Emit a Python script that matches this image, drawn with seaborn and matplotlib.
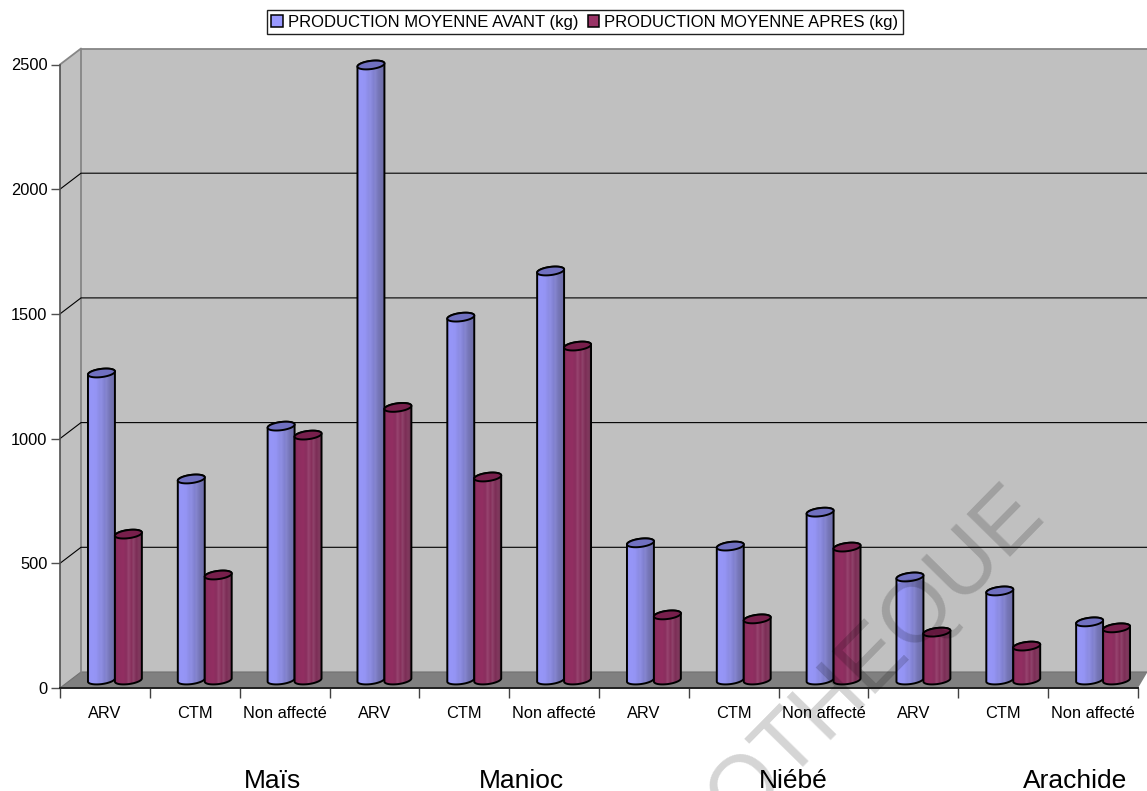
import numpy as np
import pandas as pd
import matplotlib
matplotlib.use("Agg")
import matplotlib.pyplot as plt
from matplotlib.colors import to_rgb
from matplotlib.patches import Polygon
import seaborn as sns

# Production per crop and per treatment group
crops = ["Maïs", "Manioc", "Niébé", "Arachide"]
treatments = ["ARV", "CTM", "Non affecté"]
avant = [1231, 806, 1018, 2466, 1455, 1640, 550, 537, 673, 413, 357, 233]
apres = [585, 421, 982, 1093, 814, 1339, 261, 245, 533, 192, 136, 209]
series_names = ["PRODUCTION MOYENNE AVANT (kg)", "PRODUCTION MOYENNE APRES (kg)"]
crop_label_x = [1.86, 4.64, 7.66, 10.80]

slots = [f"{c} {t}" for c in crops for t in treatments]
slot_labels = [t for c in crops for t in treatments]
df = pd.DataFrame({
    "slot": slots * 2,
    "production": avant + apres,
    "serie": [series_names[0]] * 12 + [series_names[1]] * 12,
})

sns.set_theme(style="white")
plt.rcParams["font.family"] = ["Liberation Sans", "DejaVu Sans"]

W, H = 1147, 791
fig = plt.figure(figsize=(W / 100, H / 100), dpi=100, facecolor="white")

# Front plane of the pseudo-3D box, in pixels
px_left, px_right, px_base, px_top = 60, 1138, 688, 64.5
rect = [px_left / W, 1 - px_base / H, (px_right - px_left) / W, (px_base - px_top) / H]
frame = fig.add_axes(rect, zorder=1)
frame.set_xlim(-0.5, 11.5)
frame.set_ylim(0, 2500)

px_per_x = (px_right - px_left) / 12
px_per_y = (px_base - px_top) / 2500
dx = 21 / px_per_x      # box depth in x units
dy = 16 / px_per_y      # box depth in y units
x0, x1, ytop = -0.5, 11.5, 2500
xedge = 11.5 + 9.5 / px_per_x

wall_grey, floor_grey, edge_grey = "#C0C0C0", "#808080", "#868686"
kw = dict(clip_on=False, zorder=0.5)
frame.fill([x0 + dx, xedge, xedge, x0 + dx], [ytop + dy, ytop + dy, dy, dy], color=wall_grey, lw=0, **kw)
frame.fill([x0, x0 + dx, x0 + dx, x0], [0, dy, ytop + dy, ytop], color=wall_grey, lw=0, **kw)
frame.fill([x0, x0 + dx, xedge, x1], [0, dy, dy, 0], color=floor_grey, lw=0, clip_on=False, zorder=0.6)
frame.plot([x0, x0 + dx, x0 + dx], [ytop, ytop + dy, dy], color=edge_grey, lw=1.3, clip_on=False, zorder=0.8)
frame.plot([x0 + dx, xedge], [ytop + dy] * 2, color=edge_grey, lw=1.3, clip_on=False, zorder=0.8)
frame.plot([x0, x0 + dx, xedge], [0, dy, dy], color="#707070", lw=0.8, clip_on=False, zorder=0.7)
for level in [500, 1000, 1500, 2000]:
    frame.plot([x0, x0 + dx, xedge], [level, level + dy, level + dy], color="black", lw=0.8,
               clip_on=False, zorder=0.8)

# Axes, ticks and labels
frame.patch.set_visible(False)
for side in ["top", "right"]:
    frame.spines[side].set_visible(False)
frame.spines["left"].set_color("#505050")
frame.spines["left"].set_linewidth(1.2)
frame.spines["bottom"].set_color("#202020")
frame.spines["bottom"].set_linewidth(1.4)
frame.set_yticks([0, 500, 1000, 1500, 2000, 2500])
frame.tick_params(axis="y", left=True, length=6.5, width=1, color="#505050", labelsize=11.8, pad=2.5,
                  labelcolor="black")
frame.set_xticks(np.arange(12), slot_labels)
frame.set_xticks(np.arange(13) - 0.5, minor=True)
frame.tick_params(axis="x", which="major", length=0, labelsize=11.8, pad=13, labelcolor="black")
frame.tick_params(axis="x", which="minor", bottom=True, length=7, width=1, color="#404040")
frame.grid(False)

for name, xpos in zip(crops, crop_label_x):
    frame.text(xpos, -0.1495, name, ha="center", va="center", fontsize=19, color="black",
               transform=frame.get_xaxis_transform())

# Bars stand halfway along the depth of the floor
bar_shift_x, bar_shift_y = 10, 8
bars = fig.add_axes([rect[0] + bar_shift_x / W, rect[1] + bar_shift_y / H, rect[2], rect[3]], zorder=2)
palette = {series_names[0]: "#9999FF", series_names[1]: "#993366"}
sns.barplot(data=df, x="slot", y="production", hue="serie", order=slots, hue_order=series_names,
            palette=palette, width=0.6, saturation=1, gap=0, ax=bars)
legend_handles, legend_labels = bars.get_legend_handles_labels()
bars.get_legend().remove()
bars.set_xlim(-0.5, 11.5)
bars.set_ylim(0, 2500)
bars.axis("off")

# Shading across each cylinder, from lit side to shaded side
stops = [0, 0.1, 0.3, 0.42, 0.5, 0.62, 0.68, 0.8, 0.9, 1]
shades = {
    0: ["#9090EE", "#9696F8", "#9494F4", "#8C8CE4", "#8E8EE2", "#8080D0", "#8686D0", "#7676B8", "#7272B0", "#6C6CA6"],
    1: ["#862A5A", "#8E2E60", "#922F62", "#8A2E5E", "#984470", "#862E5A", "#90456C", "#7C2C56", "#823A5E", "#6E3052"],
}
top_colors = {0: "#7070C0", 1: "#781F4C"}
half = np.linspace(0, np.pi, 60)
semi_y = 4.1 / px_per_y
shear = 1.6 / px_per_y
xs = np.linspace(0, 1, 64)

z = 3.0
for slot_index in range(12):
    for serie_index, container in enumerate(bars.containers):
        bar = container[slot_index]
        left, width, height = bar.get_x(), bar.get_width(), bar.get_height()
        cx = left + width / 2
        rgb = np.array([to_rgb(c) for c in shades[serie_index]])
        row = np.stack([np.interp(xs, stops, rgb[:, k]) for k in range(3)], axis=1)[None, :, :]

        # Outline of the cylinder: back arc of the top, both sides, front arc of the base
        arc_x = cx + width / 2 * np.cos(half)
        upper_y = semi_y * np.sin(half) + shear * np.cos(half)
        lower_y = -semi_y * np.sin(half) + shear * np.cos(half)
        body_x = np.concatenate([arc_x, arc_x[::-1]])
        body_y = np.concatenate([upper_y + height, lower_y[::-1]])
        body_xy = np.column_stack([body_x, body_y])

        bar.set_edgecolor("none")
        bar.set_zorder(z)
        body = Polygon(body_xy, closed=True, transform=bars.transData)
        image = bars.imshow(row, extent=(left, left + width, -2 * semi_y, height + 2 * semi_y), aspect="auto",
                            interpolation="bilinear", zorder=z + 0.1)
        image.set_clip_path(body)
        image.set_clip_box(fig.bbox)
        bars.add_patch(Polygon(body_xy, closed=True, facecolor="none", edgecolor="black", lw=1.4,
                               clip_on=False, zorder=z + 0.2))

        ring_x = np.concatenate([arc_x, arc_x[::-1]])
        ring_y = np.concatenate([upper_y, lower_y[::-1]]) + height
        bars.fill(ring_x, ring_y, facecolor=top_colors[serie_index], edgecolor="black", lw=1.4,
                  clip_on=False, zorder=z + 0.3)
        z += 1
bars.set_xlim(-0.5, 11.5)
bars.set_ylim(0, 2500)

for handle in legend_handles:
    handle.set_edgecolor("black")
    handle.set_linewidth(1.1)
legend = fig.legend(legend_handles, legend_labels, ncol=2, loc="center", bbox_to_anchor=(584.75 / W, 1 - 22 / H),
                    frameon=True, fancybox=False, edgecolor="#202020", framealpha=1, fontsize=12,
                    labelcolor="black", handlelength=0.7, handleheight=0.7, handletextpad=0.3,
                    columnspacing=0.55, borderpad=0.27, borderaxespad=0)
legend.get_frame().set_linewidth(1.0)
legend.set_zorder(5)

# Library watermark across the lower right
fig.text(1030 / W, 1 - 500 / H, "OTHEQUE", rotation=45.5, rotation_mode="anchor", ha="right", va="center",
         fontsize=64, color="black", alpha=0.17, zorder=10)

fig.savefig("out.png", dpi=100)
